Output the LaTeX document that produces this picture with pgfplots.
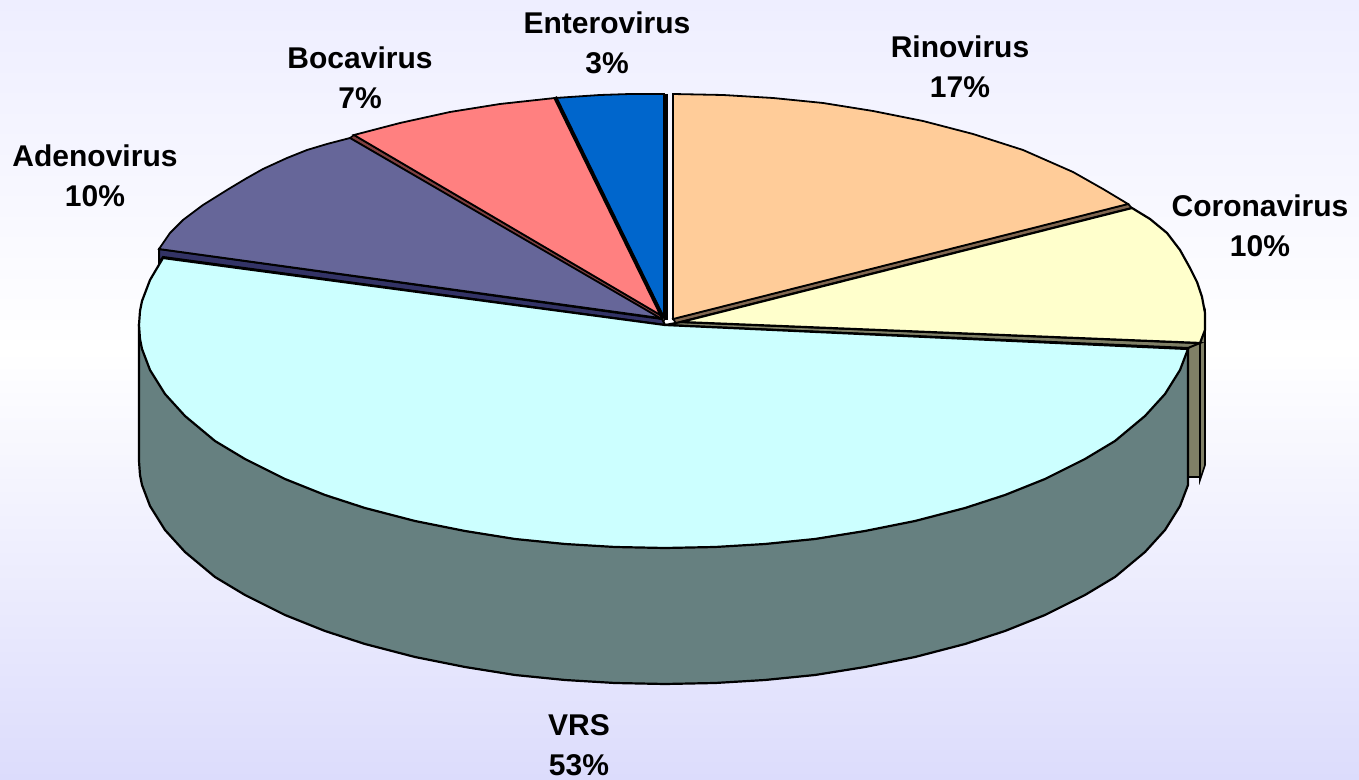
\documentclass[border=0pt]{standalone}
\usepackage{fontspec}
\setmainfont{Liberation Sans}
\usepackage{pgfplots}
\pgfplotsset{compat=1.18}
\definecolor{bgT}{HTML}{EEEEFF}
\definecolor{bgB}{HTML}{DCDCFC}
\definecolor{cOr}{HTML}{FFCC99}
\definecolor{cYe}{HTML}{FFFFCC}
\definecolor{cVr}{HTML}{CCFFFF}
\definecolor{cVs}{HTML}{668080}
\definecolor{cPu}{HTML}{666699}
\definecolor{cPi}{HTML}{FF8080}
\definecolor{cBl}{HTML}{0066CC}
\definecolor{sOr}{HTML}{806650}
\definecolor{sYe}{HTML}{808066}
\definecolor{sPu}{HTML}{333366}
\definecolor{sPi}{HTML}{804040}
\tikzset{lab/.style={font=\bfseries\fontsize{15}{20}\selectfont, align=center, text=black, inner sep=0pt}}
\begin{document}
\begin{tikzpicture}
\begin{axis}[
  scale only axis, width=679.5pt, height=390pt,
  xmin=0, xmax=1359, ymin=0, ymax=780, y dir=reverse,
  hide axis, clip=true]
\shade[top color=bgT, bottom color=white] (axis cs:0,0) rectangle (axis cs:1359,350);
\shade[top color=white, bottom color=bgB] (axis cs:0,350) rectangle (axis cs:1359,780);
% yellow wedge sides
\addplot[fill=sYe, draw=black, line width=0.8pt] coordinates {(1200,330)(1205,313)(1205,465)(1200,480)} -- cycle;
\addplot[fill=sYe, draw=black, line width=0.8pt] coordinates {(1186,347)(1200,343)(1200,477)(1186,477)} -- cycle;
% VRS side
\addplot[fill=cVs, draw=black, line width=1.1pt] coordinates {
(1188,349)(1188,485)(1180,506)(1165,530)(1145,552)(1115,577)(1085,595)(1045,615)(1005,631)(965,644)(915,657)(865,667)(815,675)(765,680)(715,683)(665,684)(615,683)(565,680)(515,675)(465,667)(415,657)(365,644)(325,631)(285,615)(245,595)(215,577)(185,552)(165,530)(150,506)(142,485)(140,475)(139,461)(139,325)} -- cycle;
% strips
\addplot[fill=sYe, draw=black, line width=1pt] coordinates {(681,322)(1200,343)(1188,348)(665,325)} -- cycle;
\addplot[fill=sOr, draw=black, line width=0.8pt] coordinates {(1128,204)(1132,208)(676,323)(673,319)} -- cycle;
\addplot[fill=sPu, draw=black, line width=1pt] coordinates {(159,249)(662,319)(665,325)(163,257)(159,263)} -- cycle;
\addplot[fill=sPi, draw=black, line width=0.8pt] coordinates {(354,135)(664,317)(660,319)(350,138)} -- cycle;
% Rinovirus
\addplot[fill=cOr, draw=black, line width=0.9pt] coordinates {
(673,319)(673,94)(723,95)(773,98)(823,103)(873,111)(923,121)(973,134)(1023,150)(1073,172)(1103,189)(1128,204)} -- cycle;
% Coronavirus
\addplot[fill=cYe, draw=black, line width=1.1pt] coordinates {
(681,322)(1132,208)(1150,219)(1167,233)(1180,250)(1190,268)(1197,282)(1202,297)(1205,313)(1205,330)(1200,343)} -- cycle;
% VRS top
\addplot[fill=cVr, draw=black, line width=1.1pt] coordinates {
(665,325)(1188,349)(1180,370)(1165,394)(1145,416)(1115,441)(1085,459)(1045,479)(1005,495)(965,508)(915,521)(865,531)(815,539)(765,544)(715,547)(665,548)(615,547)(565,544)(515,539)(465,531)(415,521)(365,508)(325,495)(285,479)(245,459)(215,441)(185,416)(165,394)(150,370)(142,349)(140,339)(139,325)(140,311)(142,301)(150,280)(163,258)} -- cycle;
% Adenovirus
\addplot[fill=cPu, draw=black, line width=0.9pt] coordinates {
(660,318)(159,249)(170,233)(183,220)(203,205)(227,190)(247,178)(263,169)(287,158)(307,150)(327,144)(350,138)} -- cycle;
% Bocavirus
\addplot[fill=cPi, draw=black, line width=0.9pt] coordinates {
(662,316)(354,135)(400,123)(450,112)(500,104)(555,98)} -- cycle;
% Enterovirus
\addplot[fill=cBl, draw=black, line width=0.9pt] coordinates {
(664,318)(555,98)(600,95)(630,94)(664,94)} -- cycle;
\addplot[draw=black, line width=2pt] coordinates {(555,97)(663,318)};
\addplot[draw=black, line width=2pt] coordinates {(665.5,94)(665.5,320)};
% labels
\node[lab] at (axis cs:607,43) {Enterovirus\\3\%};
\node[lab] at (axis cs:960,67) {Rinovirus\\17\%};
\node[lab] at (axis cs:1260,226) {Coronavirus\\10\%};
\node[lab] at (axis cs:360,78) {Bocavirus\\7\%};
\node[lab] at (axis cs:95,176) {Adenovirus\\10\%};
\node[lab] at (axis cs:579,745) {VRS\\53\%};
\end{axis}
\end{tikzpicture}
\end{document}
